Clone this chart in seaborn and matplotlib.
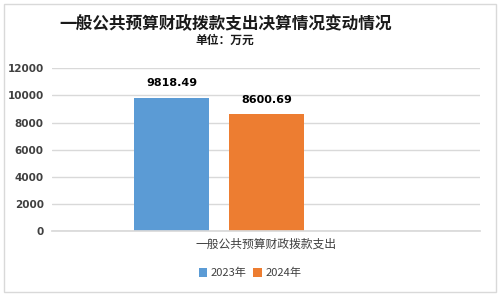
import matplotlib
matplotlib.use("Agg")
import matplotlib.pyplot as plt
import seaborn as sns
import pandas as pd
from matplotlib.patches import Rectangle

categories = ["一般公共预算财政拨款支出"]
years = ["2023年", "2024年"]
values = [9818.49, 8600.69]
value_labels = ["9818.49", "8600.69"]
yticks = [0, 2000, 4000, 6000, 8000, 10000, 12000]
colors = ["#5B9BD5", "#ED7D31"]

sns.set_theme(style="white")
plt.rcParams['font.family'] = ['Noto Sans CJK SC', 'DejaVu Sans']

df = pd.DataFrame({"cat": categories * len(years), "year": years, "value": values})

fig = plt.figure(figsize=(5.01, 2.97), dpi=100)
ax = fig.add_axes([52/501, 1-231/297, (480-52)/501, (231-68.3)/297])

sns.barplot(data=df, x="cat", y="value", hue="year", palette=colors,
            width=0.8, gap=0.21, ax=ax, legend=True, saturation=1,
            linewidth=0)

ax.set_ylim(0, 12000)
ax.set_xlim(-0.703, 1.099)
ax.set_yticks(yticks)
ax.set_yticklabels([str(t) for t in yticks], fontsize=7.5, color="#404040",
                   fontweight="bold", family=['DejaVu Sans'])
ax.yaxis.grid(True, color="#d9d9d9", linewidth=1)
ax.set_axisbelow(True)
for s in ["top", "right", "left"]:
    ax.spines[s].set_visible(False)
ax.spines["bottom"].set_color("#d9d9d9")
ax.tick_params(axis="both", length=0, pad=6)
ax.set_xticks([0.198])
ax.set_xticklabels(categories, fontsize=8.5, color="#404040")
ax.tick_params(axis="x", pad=5)
ax.set_xlabel("")
ax.set_ylabel("")

for cont, lab in zip(ax.containers, value_labels):
    ax.bar_label(cont, labels=[lab], padding=7, fontsize=8, fontweight="bold",
                 color="#000000", family=['DejaVu Sans'])

leg = ax.legend(loc="center", bbox_to_anchor=(250/501, 1-273/297),
                bbox_transform=fig.transFigure, ncol=2, frameon=False,
                fontsize=8, handlelength=0.8, handleheight=0.8,
                handletextpad=0.3, columnspacing=0.6)
for t in leg.get_texts():
    t.set_color("#404040")

fig.text(226/501, 1-24/297, "一般公共预算财政拨款支出决算情况变动情况",
         ha="center", va="center", fontsize=12, fontweight="bold", color="#1a1a1a")
fig.text(225/501, 1-40/297, "单位：万元", ha="center", va="center",
         fontsize=8.5, fontweight="bold", color="#1a1a1a")

fig.patches.append(Rectangle((4/501, 1-292/297), 492/501, 288/297,
                             transform=fig.transFigure, fill=False,
                             edgecolor="#d9d9d9", linewidth=1))

fig.savefig("out.png", dpi=100)
